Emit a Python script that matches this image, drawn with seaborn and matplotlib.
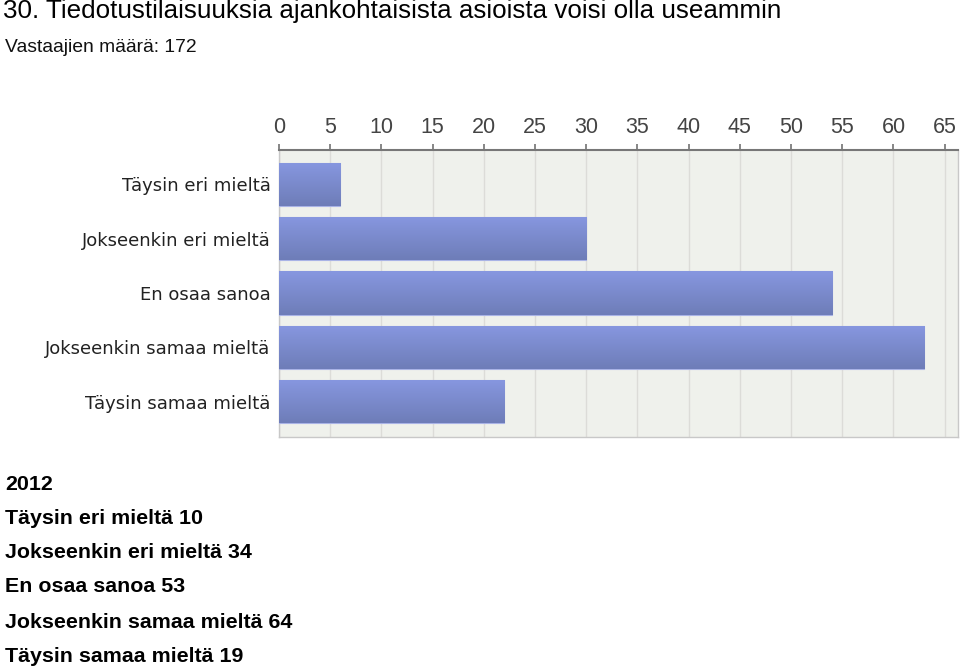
import numpy as np
import pandas as pd
import matplotlib
matplotlib.use("Agg")
import matplotlib.pyplot as plt
import seaborn as sns
from matplotlib.colors import LinearSegmentedColormap

categories = ["Täysin eri mieltä", "Jokseenkin eri mieltä", "En osaa sanoa",
              "Jokseenkin samaa mieltä", "Täysin samaa mieltä"]
values = [6, 30, 54, 63, 22]
x_ticks = list(range(0, 66, 5))
title = "30. Tiedotustilaisuuksia ajankohtaisista asioista voisi olla useammin"
subtitle = "Vastaajien määrä: 172"
year_label = "2012"
text_values = [10, 34, 53, 64, 19]

sns.set_theme(style="white")
plt.rcParams['font.family'] = ['Liberation Sans', 'DejaVu Sans']

df = pd.DataFrame({"cat": categories, "val": values})

fig = plt.figure(figsize=(9.6, 6.72), dpi=100)
ax = fig.add_axes([279/960, 1-437/672, (958-279)/960, (437-150)/672])
ax.set_facecolor("#eff1ec")

sns.barplot(data=df, x="val", y="cat", orient="h", color="#7b8bd0",
            width=0.8, ax=ax, zorder=3)

# gradient fill for bars
grad = np.linspace(0, 1, 64).reshape(-1, 1)
cmap = LinearSegmentedColormap.from_list("g", ["#8797e0", "#6e7db8"])
for p in ax.patches:
    x0, y0 = p.get_x(), p.get_y()
    w, h = p.get_width(), p.get_height()
    im = ax.imshow(grad, extent=[x0, x0 + w, y0 + h, y0], origin="upper",
                   cmap=cmap, aspect="auto", zorder=4)
    im.set_clip_path(p)
    p.set_edgecolor("#a9b3e6")
    p.set_linewidth(0.8)

ax.set_xlim(0, 66.3)
ax.set_ylim(4.65, -0.63)
ax.set_xticks(x_ticks)
ax.xaxis.tick_top()
ax.tick_params(axis="x", which="both", top=True, bottom=False, length=4,
               color="#777777", labelsize=15.5, labelcolor="#444444", pad=5)
ax.tick_params(axis="y", length=0, labelsize=13, labelcolor="#222222", pad=6)
for lbl in ax.get_xticklabels():
    lbl.set_fontfamily(['Liberation Sans Narrow', 'Liberation Sans', 'DejaVu Sans'])
for lbl in ax.get_yticklabels():
    lbl.set_fontfamily(['DejaVu Sans'])
ax.set_xlabel("")
ax.set_ylabel("")
ax.grid(axis="x", color="#dcdcd8", linewidth=1, zorder=0)
ax.set_axisbelow(True)
for s in ["left", "right", "bottom"]:
    ax.spines[s].set_color("#c8c8c8")
    ax.spines[s].set_linewidth(1)
ax.spines["top"].set_color("#777777")
ax.spines["top"].set_linewidth(1.5)

fig.text(0.003, 1 - 11/672, title, fontsize=18.7, va="center", ha="left", color="#000000")
fig.text(0.005, 1 - 48/672, subtitle, fontsize=13.9, va="center", ha="left", color="#111111")

lines = [year_label] + [f"{c} {v}" for c, v in zip(categories, text_values)]
ys = [484, 518, 552, 587, 622, 657]
for t, y in zip(lines, ys):
    fig.text(0.005, 1 - y/672, t, fontsize=15.4, fontweight="bold", va="center",
             ha="left", color="#000000")

fig.savefig("out.png", dpi=100)
